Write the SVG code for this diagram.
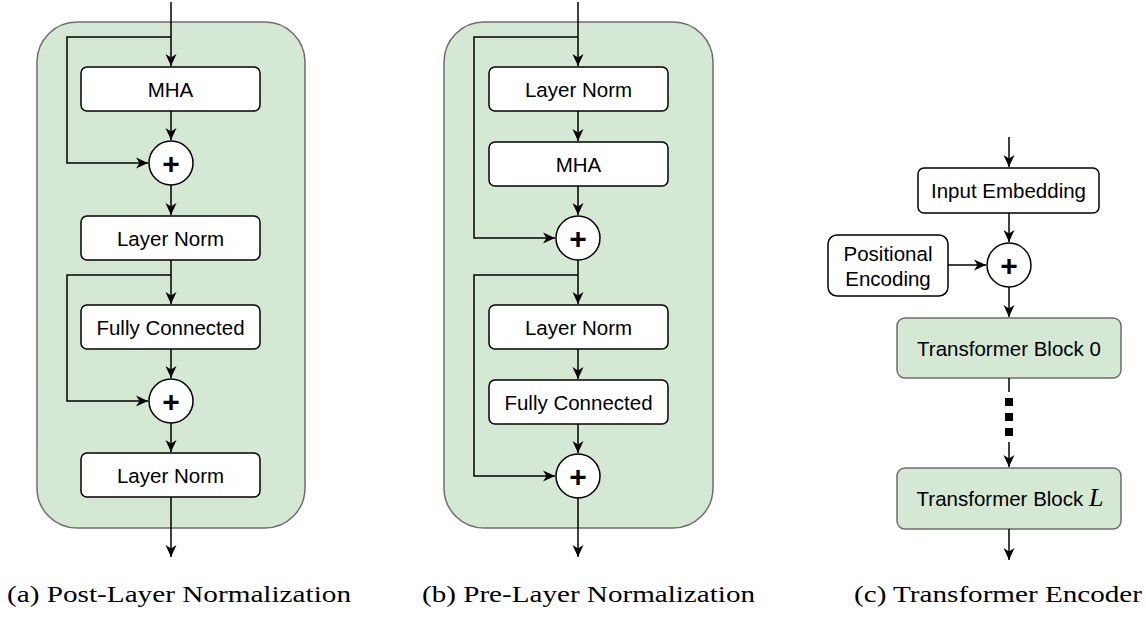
<svg xmlns="http://www.w3.org/2000/svg" width="1146" height="619" viewBox="0 0 1146 619">
  <defs>
    <marker id="arrow" viewBox="0 0 12 12" refX="12" refY="6" markerWidth="12" markerHeight="12" markerUnits="userSpaceOnUse" orient="auto">
      <path d="M0,0.5 L12,6 L0,11.5 L3.5,6 Z" fill="#000"/>
    </marker>
    <style>
      .panel { fill: #d5e8d4; stroke: #6e6e6e; stroke-width: 1.5; }
      .box { fill: #fff; stroke: #000; stroke-width: 1.5; }
      .gbox { fill: #d5e8d4; stroke: #6e6e6e; stroke-width: 1.5; }
      .sum { fill: #fff; stroke: #000; stroke-width: 1.5; }
      .lbl { font-family: "Liberation Sans", Arial, sans-serif; font-size: 20.5px; fill: #000; text-anchor: middle; }
      .plus { font-family: "Liberation Sans", Arial, sans-serif; font-size: 30px; font-weight: bold; fill: #000; text-anchor: middle; }
      .cap { font-family: "Liberation Serif", "Times New Roman", serif; font-size: 23px; fill: #000; }
      .edge { fill: none; stroke: #000; stroke-width: 1.5; }
      .arr { marker-end: url(#arrow); }
    </style>
  </defs>

  <!-- (a) post-layer normalization block -->
  <g id="post-ln">
    <rect class="panel" x="37" y="22" width="268" height="506" rx="40"/>
    <g id="a-mha"><rect class="box" x="81" y="67" width="179" height="44" rx="6"/><text class="lbl" x="170.5" y="96.5">MHA</text></g>
    <g id="a-add1"><circle class="sum" cx="171" cy="163" r="22"/><text class="plus" x="171" y="173.5">+</text></g>
    <g id="a-ln1"><rect class="box" x="81" y="216" width="179" height="44" rx="6"/><text class="lbl" x="170.5" y="245.5">Layer Norm</text></g>
    <g id="a-fc"><rect class="box" x="81" y="305" width="179" height="44" rx="6"/><text class="lbl" x="170.5" y="334.5">Fully Connected</text></g>
    <g id="a-add2"><circle class="sum" cx="171" cy="401" r="22"/><text class="plus" x="171" y="411.5">+</text></g>
    <g id="a-ln2"><rect class="box" x="81" y="453" width="179" height="44" rx="6"/><text class="lbl" x="170.5" y="482.5">Layer Norm</text></g>
  </g>

  <!-- (b) pre-layer normalization block -->
  <g id="pre-ln">
    <rect class="panel" x="444" y="22" width="269" height="506" rx="40"/>
    <g id="b-ln1"><rect class="box" x="489" y="67" width="179" height="44" rx="6"/><text class="lbl" x="578.5" y="96.5">Layer Norm</text></g>
    <g id="b-mha"><rect class="box" x="489" y="142" width="179" height="44" rx="6"/><text class="lbl" x="578.5" y="171.5">MHA</text></g>
    <g id="b-add1"><circle class="sum" cx="578" cy="238" r="22"/><text class="plus" x="578" y="248.5">+</text></g>
    <g id="b-ln2"><rect class="box" x="489" y="305" width="179" height="44" rx="6"/><text class="lbl" x="578.5" y="334.5">Layer Norm</text></g>
    <g id="b-fc"><rect class="box" x="489" y="380" width="179" height="44" rx="6"/><text class="lbl" x="578.5" y="409.5">Fully Connected</text></g>
    <g id="b-add2"><circle class="sum" cx="578" cy="476" r="22"/><text class="plus" x="578" y="486.5">+</text></g>
  </g>

  <!-- (c) encoder stack -->
  <g id="encoder">
    <g id="c-embed"><rect class="box" x="918" y="168" width="181" height="45" rx="6"/><text class="lbl" x="1008.5" y="198">Input Embedding</text></g>
    <g id="c-pos"><rect class="box" x="828" y="235" width="120" height="61" rx="9"/><text class="lbl" x="888" y="260.5">Positional</text><text class="lbl" x="888" y="285.5">Encoding</text></g>
    <g id="c-add"><circle class="sum" cx="1009" cy="265" r="22"/><text class="plus" x="1009" y="275.5">+</text></g>
    <g id="c-block0"><rect class="gbox" x="897" y="318" width="224" height="60" rx="8"/><text class="lbl" x="1009" y="355.5">Transformer Block 0</text></g>
    <g id="c-blockL"><rect class="gbox" x="897" y="468" width="224" height="61" rx="8"/><text class="lbl" x="1010" y="506">Transformer Block <tspan font-family="'Liberation Serif', 'Times New Roman', serif" font-style="italic" font-size="26px">L</tspan></text></g>
  </g>

  <!-- connectors -->
  <g id="connectors">
    <!-- (a) -->
    <path class="edge arr" d="M171,2 V66"/>
    <path class="edge arr" d="M171,37 H67 V163 H148"/>
    <path class="edge arr" d="M171,111 V140"/>
    <path class="edge arr" d="M171,185 V215"/>
    <path class="edge arr" d="M171,260 V304"/>
    <path class="edge arr" d="M171,275 H67 V401 H148"/>
    <path class="edge arr" d="M171,349 V378"/>
    <path class="edge arr" d="M171,423 V452"/>
    <path class="edge arr" d="M171,497 V557"/>
    <!-- (b) -->
    <path class="edge arr" d="M578,2 V66"/>
    <path class="edge arr" d="M578,37 H474 V238 H555"/>
    <path class="edge arr" d="M578,111 V141"/>
    <path class="edge arr" d="M578,186 V215"/>
    <path class="edge arr" d="M578,260 V304"/>
    <path class="edge arr" d="M578,275 H474 V476 H555"/>
    <path class="edge arr" d="M578,349 V379"/>
    <path class="edge arr" d="M578,424 V453"/>
    <path class="edge arr" d="M578,498 V557"/>
    <!-- (c) -->
    <path class="edge arr" d="M1009,137 V167"/>
    <path class="edge arr" d="M1009,213 V242"/>
    <path class="edge arr" d="M948,265 H986"/>
    <path class="edge arr" d="M1009,287 V317"/>
    <path class="edge" d="M1009,378 V392"/>
    <path fill="none" stroke="#000" stroke-width="8" stroke-dasharray="8 7" d="M1009,398 V437"/>
    <path class="edge arr" d="M1009,442 V467"/>
    <path class="edge arr" d="M1009,529 V560"/>
  </g>

  <!-- captions -->
  <g id="captions">
    <text class="cap" x="7" y="602" textLength="344" lengthAdjust="spacingAndGlyphs">(a) Post-Layer Normalization</text>
    <text class="cap" x="422" y="602" textLength="333" lengthAdjust="spacingAndGlyphs">(b) Pre-Layer Normalization</text>
    <text class="cap" x="854" y="602" textLength="288" lengthAdjust="spacingAndGlyphs">(c) Transformer Encoder</text>
  </g>
</svg>
